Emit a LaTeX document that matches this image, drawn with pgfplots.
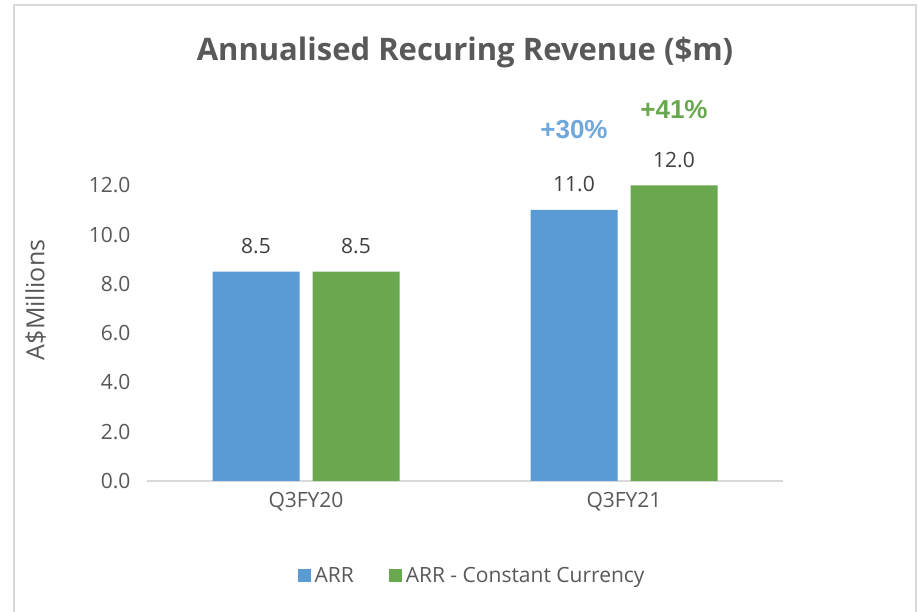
\documentclass[border=0pt]{standalone}
\usepackage{pgfplots}
\pgfplotsset{compat=1.18}
\usepackage{fontspec}
\setmainfont{Open Sans}
\newfontfamily\arialfont{Liberation Sans}
\definecolor{arrblue}{RGB}{91,155,213}
\definecolor{arrgreen}{RGB}{106,168,79}
\definecolor{pctblue}{RGB}{111,168,220}
\definecolor{titlegray}{RGB}{89,89,89}
\definecolor{labelgray}{RGB}{64,64,64}
\definecolor{framegray}{RGB}{217,217,217}
\definecolor{axisgray}{RGB}{217,217,217}
\begin{document}
\begin{tikzpicture}[x=1pt,y=1pt]
\useasboundingbox (0,0) rectangle (918,612);
\fill[white] (0,0) rectangle (918,612);
\draw[framegray, line width=2pt] (14,-10) -- (14,607) -- (916,607) -- (916,-10);
\begin{axis}[
  at={(147pt,131pt)}, anchor=south west,
  scale only axis, width=636pt, height=345pt,
  /pgf/number format/assume math mode=true,
  ybar=13pt, bar width=87pt,
  xmin=-0.5, xmax=1.5, ymin=0, ymax=14,
  xtick=data, xticklabels={Q3FY20,Q3FY21},
  ytick={0,2,4,6,8,10,12},
  yticklabel={\pgfmathprintnumber[fixed,fixed zerofill,precision=1]{\tick}},
  axis x line*=bottom, axis y line*=left,
  x axis line style={draw=axisgray, line width=2pt, -},
  y axis line style={draw=none},
  major tick length=0pt,
  tick label style={font=\fontsize{21}{24}\selectfont, text=titlegray},
  xticklabel style={yshift=-8pt},
  yticklabel style={xshift=-13pt},
  ylabel={A\$Millions},
  ylabel style={at={(axis description cs:-0.175,0.525)}, anchor=center, rotate=0, font=\fontsize{25}{28}\selectfont, text=titlegray},
  title={\textbf{Annualised Recuring Revenue (\$m)}},
  title style={at={(axis description cs:0.5,1.226)}, anchor=center, font=\fontsize{31}{36}\selectfont, text=titlegray},
  nodes near coords={\pgfmathprintnumber[fixed,fixed zerofill,precision=1]{\pgfplotspointmeta}},
  nodes near coords style={anchor=base, yshift=18pt, font=\fontsize{21}{24}\selectfont, text=labelgray},
  legend style={draw=none, at={(axis description cs:0.511,-0.275)}, anchor=center, legend columns=2, font=\fontsize{21}{24}\selectfont, text=titlegray, /tikz/every even column/.append style={column sep=33pt}},
  legend image code/.code={\fill[#1] (0pt,-6.5pt) rectangle (13pt,6.5pt); \path (0pt,0pt) -- (15pt,0pt);},
  clip=false,
]
\addplot[fill=arrblue, draw=none] coordinates {(0,8.5) (1,11.0)};
\addplot[fill=arrgreen, draw=none] coordinates {(0,8.5) (1,12.0)};
\legend{ARR, ARR - Constant Currency}
\node[anchor=base, xshift=-50pt, text=pctblue, font=\arialfont\bfseries\fontsize{26}{30}\selectfont] at (axis cs:1,13.88) {+30\%};
\node[anchor=base, xshift=50pt, text=arrgreen, font=\arialfont\bfseries\fontsize{26}{30}\selectfont] at (axis cs:1,14.69) {+41\%};
\end{axis}
\end{tikzpicture}
\end{document}
